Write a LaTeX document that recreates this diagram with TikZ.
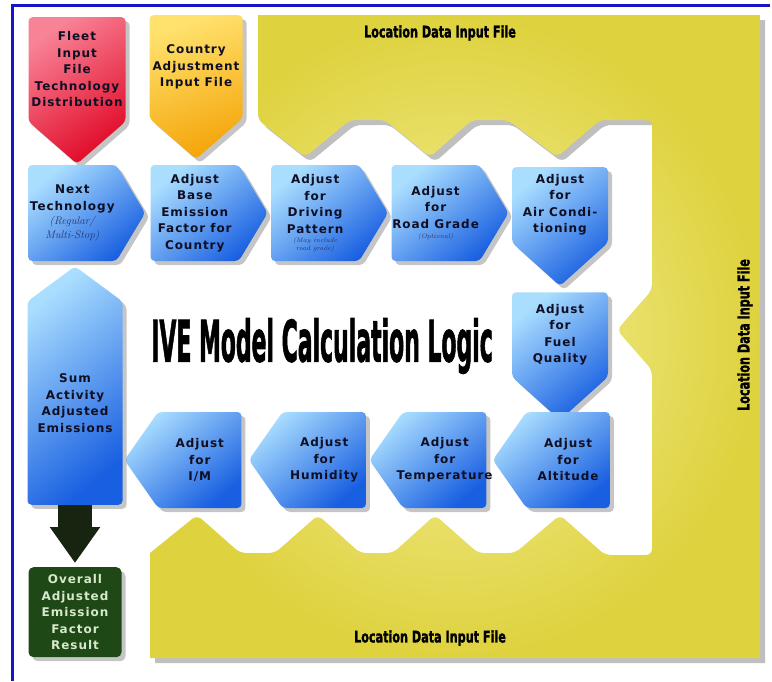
\documentclass[tikz,border=0pt]{standalone}
\usepackage{fontspec}
\usepackage{tikz}
\usetikzlibrary{positioning, shapes.symbols, arrows.meta, shadows}
\newfontfamily\stagefont{DejaVu Sans}[LetterSpace=8]
\newfontfamily\headfont{DejaVu Sans Bold}[FakeBold=2]
\definecolor{ivBlueLight}{RGB}{170, 222, 255}
\definecolor{ivBlueMid}{RGB}{80, 160, 245}
\definecolor{ivBlueDeep}{RGB}{25, 95, 225}
\definecolor{ivInk}{RGB}{15, 15, 35}
\definecolor{ivNote}{RGB}{40, 55, 105}
\definecolor{ivRed}{RGB}{225, 10, 40}
\definecolor{ivRedPale}{RGB}{248, 130, 150}
\definecolor{ivGold}{RGB}{245, 165, 10}
\definecolor{ivGoldPale}{RGB}{255, 226, 110}
\definecolor{ivYellow}{RGB}{222, 210, 62}
\definecolor{ivYellowPale}{RGB}{246, 241, 160}
\definecolor{ivGreen}{RGB}{30, 72, 22}
\definecolor{ivGreenText}{RGB}{215, 232, 205}
\definecolor{ivShaft}{RGB}{22, 36, 16}
\definecolor{ivFrame}{RGB}{20, 20, 200}
\newcommand{\subnote}[1]{{\normalfont\itshape\color{ivNote}\fontsize{11}{12}\selectfont #1}}
\newcommand{\tinynote}[1]{{\normalfont\itshape\color{ivNote}\fontsize{6.5}{7}\selectfont #1}}
\newcommand{\squeezed}[2]{\scalebox{#1}[1]{#2}}
\tikzset{
    base/.style={
        font=\stagefont\bfseries\fontsize{12}{16.5}\selectfont,
        align=center,
        text=ivInk
    },
    stage/.style={
        base,
        shape=signal,
        rounded corners=4pt,
        inner xsep=-20pt,
        inner ysep=0pt,
        top color=ivBlueLight,
        middle color=ivBlueMid,
        bottom color=ivBlueDeep,
        shading angle=40,
        drop shadow={opacity=0.45, shadow xshift=4pt, shadow yshift=-4pt}
    },
    forward/.style={
        stage,
        signal to=east,
        minimum width=117pt,
        minimum height=96pt,
        signal pointer angle=118
    },
    backward/.style={
        stage,
        signal to=west,
        minimum width=117pt,
        minimum height=96pt,
        signal pointer angle=110
    },
    downward/.style={
        stage,
        signal to=south,
        inner xsep=0pt,
        minimum width=96pt,
        minimum height=109pt,
        signal pointer angle=96
    },
    upward/.style={
        stage,
        signal to=north,
        inner xsep=0pt,
        minimum width=95pt,
        minimum height=231pt,
        signal pointer angle=107
    },
    source/.style={
        base,
        shape=signal,
        signal to=south,
        rounded corners=4pt,
        inner sep=1pt,
        signal pointer angle=98,
        drop shadow={opacity=0.45, shadow xshift=4pt, shadow yshift=-4pt}
    },
    result/.style={
        base,
        rectangle,
        rounded corners=5pt,
        fill=ivGreen,
        text=ivGreenText,
        minimum width=93pt,
        minimum height=90pt,
        drop shadow={opacity=0.45, shadow xshift=4pt, shadow yshift=-4pt}
    },
    frame/.style={
        inner color=ivYellowPale,
        outer color=ivYellow,
        drop shadow={opacity=0.5, shadow xshift=5pt, shadow yshift=-5pt}
    },
    heading/.style={
        font=\headfont\fontsize{57}{57}\selectfont,
        text=black,
        inner sep=0pt
    },
    filelabel/.style={
        font=\headfont\fontsize{16}{16}\selectfont,
        text=black,
        inner sep=0pt
    },
    flow/.style={
        -{Triangle[length=36pt, width=48pt]},
        line width=34pt,
        draw=ivShaft,
        shorten >=4pt
    }
}

\begin{document}
\begin{tikzpicture}[x=1pt, y=-1pt]
  % Canvas
  \useasboundingbox (0,0) rectangle (772,681);
  \fill[white] (0,0) rectangle (772,681);
  \draw[ivFrame, line width=3pt] (12,681) -- (12,5) -- (770,5);

  % Location data frame
  \path[frame] (258,15) -- (760,15) -- (760,658) -- (150,658) -- (150,553)
    [rounded corners=6pt] -- (197,515) -- (240,553) -- (275,553) -- (318,515)
    -- (360,553) -- (393,553) -- (435,515) -- (478,553) -- (515,553)
    -- (560,515) -- (605,555) -- (652,555) -- (652,370) -- (617,330)
    -- (652,290) -- (652,120) -- (600,120) -- (557,157) -- (508,120)
    -- (472,120) -- (430,157) -- (385,120) -- (350,120) -- (305,157)
    -- (258,120) [sharp corners] -- cycle;
  \node[filelabel] (topfile) at (440,33) {\squeezed{0.7}{Location Data Input File}};
  \node[filelabel] (bottomfile) at (430,638) {\squeezed{0.7}{Location Data Input File}};
  \node[filelabel, rotate=90] (sidefile) at (745,335) {\squeezed{0.7}{Location Data Input File}};

  % Input files
  \node[source, anchor=north, minimum width=97pt, minimum height=145pt,
        top color=ivRedPale, middle color=ivRed, bottom color=ivRed, shading angle=35]
        (fleet) at (77,17) {Fleet\\Input\\File\\Technology\\Distribution};
  \node[source, anchor=north, minimum width=93pt, minimum height=142pt,
        top color=ivGoldPale, bottom color=ivGold, shading angle=20]
        (country) at (196,15) {Country\\Adjustment\\Input File};

  % Calculation chain
  \node[forward, anchor=west] (next) at (28,213)
        {Next\\Technology\\[-2pt]\subnote{(Regular/}\\[-3pt]\subnote{Multi-Stop)}};
  \node[forward, right=5pt of next] (base) {Adjust\\Base\\Emission\\Factor for\\Country};
  \node[forward, right=3pt of base] (driving)
        {Adjust\\for\\Driving\\Pattern\\[-7pt]\tinynote{(May include}\\[-9pt]\tinynote{road grade)}};
  \node[forward, right=3pt of driving] (grade) {Adjust\\for\\Road Grade\\[-6pt]\tinynote{(Optional)}};
  \node[downward, anchor=north] (aircon) at (560,167) {Adjust\\for\\Air Condi-\\tioning};
  \node[downward, below=6pt of aircon] (fuel) {Adjust\\for\\Fuel\\Quality};
  \node[backward, anchor=east] (altitude) at (610,460) {Adjust\\for\\Altitude};
  \node[backward, left=6pt of altitude] (temperature) {Adjust\\for\\Temperature};
  \node[backward, left=3pt of temperature] (humidity) {Adjust\\for\\Humidity};
  \node[backward, left=7pt of humidity] (im) {Adjust\\for\\I/M};
  \node[upward, anchor=south] (sum) at (75,505) {Sum\\Activity\\Adjusted\\Emissions};
  \node[result, below=62pt of sum] (overall) {Overall\\Adjusted\\Emission\\Factor\\Result};
  \draw[flow] (sum.south) -- (overall.north);

  % Title
  \node[heading] (title) at (322,346) {\squeezed{0.385}{IVE Model Calculation Logic}};
\end{tikzpicture}
\end{document}
